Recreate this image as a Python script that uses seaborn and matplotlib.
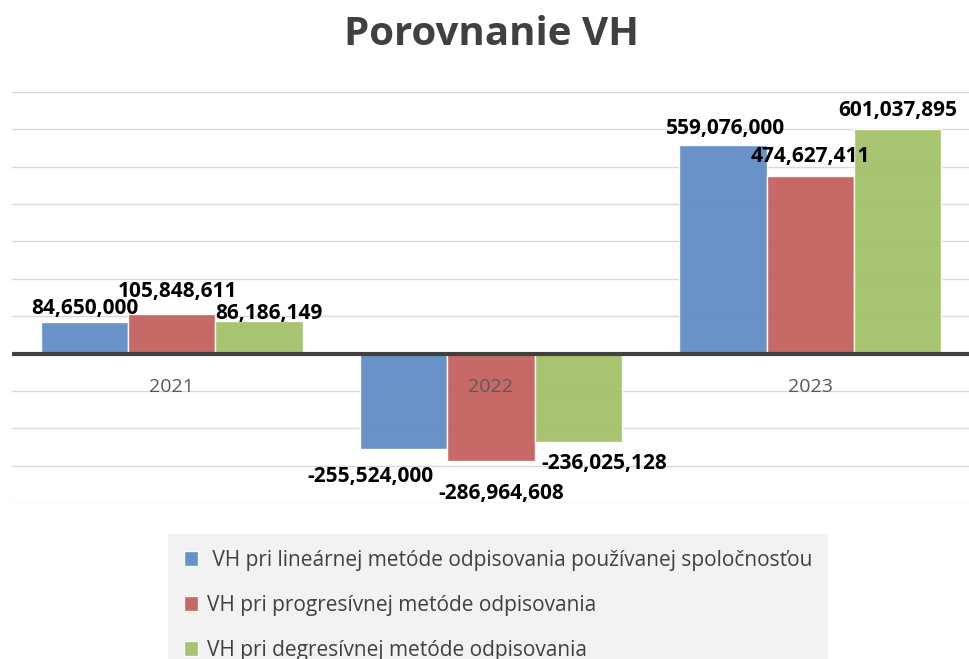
import pandas as pd
import matplotlib.pyplot as plt
import seaborn as sns

# Data
years = ['2021', '2022', '2023']
methods = [
    ' VH pri lineárnej metóde odpisovania používanej spoločnosťou',
    'VH pri progresívnej metóde odpisovania',
    'VH pri degresívnej metóde odpisovania',
]
linear_values = [84650000, -255524000, 559076000]
progressive_values = [105848611, -286964608, 474627411]
degressive_values = [86186149, -236025128, 601037895]

colors = ['#5c8ac4', '#c35c5a', '#a1bf64']

# Label nudges in pixels (Excel moved overlapping labels)
label_offsets = [
    [(0, 8), (-33, -17), (2, 11)],
    [(6, 17), (10, -22), (0, 14)],
    [(10, 2), (26, -11), (0, 13)],
]

rows = []
for method, values in zip(methods, [linear_values, progressive_values, degressive_values]):
    for year, v in zip(years, values):
        rows.append({'year': year, 'method': method, 'value': v})
df = pd.DataFrame(rows)

sns.set_style('whitegrid', {'grid.color': '#d9d9d9'})
plt.rcParams['font.family'] = ['Open Sans', 'DejaVu Sans']

fig = plt.figure(figsize=(9.7, 6.59), dpi=100)
ax = fig.add_axes([12 / 970, 1 - 503 / 659, 1 - 12 / 970, (503 - 92) / 659])

sns.barplot(data=df, x='year', y='value', hue='method', hue_order=methods,
            palette=colors, width=0.82, edgecolor='white', linewidth=1,
            saturation=1, alpha=0.92, ax=ax, legend=True)

ax.set_ylim(-400e6, 700e6)
ax.set_yticks(range(-400000000, 700000001, 100000000))
ax.set_yticklabels([])
ax.set_xlim(-0.5, 2.5)
ax.grid(axis='y', color='#d9d9d9', linewidth=1)
ax.grid(axis='x', visible=False)
ax.set_axisbelow(True)
for s in ax.spines.values():
    s.set_visible(False)
ax.axhline(0, color='#404040', linewidth=3, zorder=5)
ax.set_xticklabels([])
ax.tick_params(length=0)
ax.set_xlabel('')
ax.set_ylabel('')

# Category labels just below the zero line, drawn over the bars
for i, year in enumerate(years):
    ax.annotate(year, xy=(i, 0), xytext=(0, -33), textcoords='offset pixels',
                ha='center', va='center', fontsize=14, color='#595959', zorder=6)

# Data labels
for i, cont in enumerate(ax.containers):
    for j, bar in enumerate(cont):
        v = bar.get_height()
        x = bar.get_x() + bar.get_width() / 2
        dx, dy = label_offsets[i][j]
        ax.annotate(f'{int(round(v)):,}', xy=(x, v), xytext=(dx, dy),
                    textcoords='offset pixels', ha='center',
                    va='baseline' if v >= 0 else 'top',
                    fontsize=15, fontweight='bold', color='black', zorder=7)

fig.text(0.507, 0.948, 'Porovnanie VH', ha='center', va='center',
         fontsize=29, fontweight='bold', color='#404040')

handles, labels = ax.get_legend_handles_labels()
ax.get_legend().remove()
leg = fig.legend(handles, labels, loc='upper left',
                 bbox_to_anchor=(168 / 970, 1 - 534 / 659), borderaxespad=0,
                 frameon=True, facecolor='#f2f2f2', edgecolor='none', fancybox=False,
                 framealpha=1, fontsize=15, labelspacing=1.15, handlelength=0.7,
                 handleheight=0.7, handletextpad=0.4, borderpad=0.75)
for t in leg.get_texts():
    t.set_color('#404040')

fig.savefig('out.png', dpi=100)
